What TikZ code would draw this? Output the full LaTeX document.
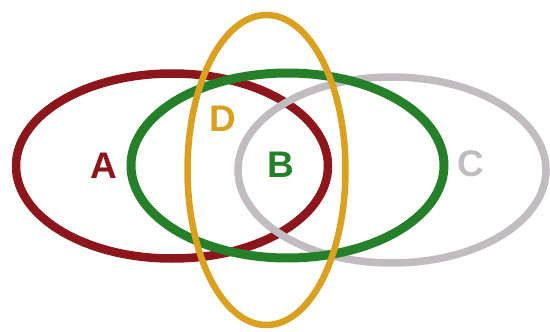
\documentclass[tikz,border=0pt]{standalone}
\usepackage{fontspec}
\setmainfont{Liberation Sans}
\definecolor{cA}{RGB}{140,22,28}
\definecolor{cB}{RGB}{38,128,42}
\definecolor{cC}{RGB}{192,188,192}
\definecolor{cD}{RGB}{218,160,32}
\begin{document}
\begin{tikzpicture}[x=1pt,y=-1pt,
  ring/.style={line width=#1},
  lab/.style={font=\fontsize{37}{37}\selectfont\bfseries, inner sep=0pt, anchor=center}]
\useasboundingbox (0,0) rectangle (550,332);
\draw[cA, ring=8.5] (172,166) ellipse [x radius=156, y radius=92.5];
\draw[cC, ring=7.5] (392,170) ellipse [x radius=154, y radius=93];
\draw[cB, ring=9] (287.5,165.5) ellipse [x radius=156.5, y radius=92.5];
\draw[cD, ring=6.5] (266.5,170) ellipse [x radius=79, y radius=155];
\node[lab, text=cA] (A) at (104,166) {A};
\node[lab, text=cD] (D) at (223,119) {D};
\node[lab, text=cB] (B) at (281,165) {B};
\node[lab, text=cC] (C) at (471,164) {C};
\end{tikzpicture}
\end{document}
